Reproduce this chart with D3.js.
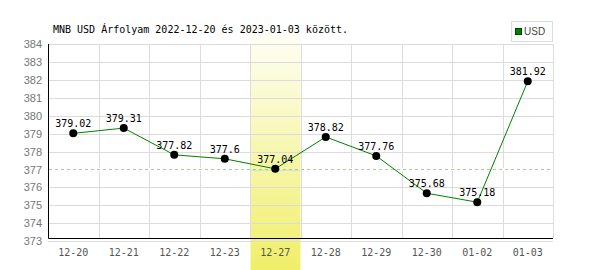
<!DOCTYPE html>
<html>
<head>
<meta charset="utf-8">
<script src="https://cdn.jsdelivr.net/npm/d3@7"></script>
<style>
  body { margin: 0; background: #fff; }
  svg { display: block; }
</style>
</head>
<body>
<div id="chart"></div>
<script>
const days = ['12-20', '12-21', '12-22', '12-23', '12-27', '12-28', '12-29', '12-30', '01-02', '01-03'];
const rates = [379.02, 379.31, 377.82, 377.6, 377.04, 378.82, 377.76, 375.68, 375.18, 381.92];
const valueLabels = ['379.02', '379.31', '377.82', '377.6', '377.04', '378.82', '377.76', '375.68', '375.18', '381.92'];
const yTicks = [373, 374, 375, 376, 377, 378, 379, 380, 381, 382, 383, 384];
const highlightDay = '12-27';
const title = 'MNB USD Árfolyam 2022-12-20 és 2023-01-03 között.';
const seriesName = 'USD';

const width = 600, height = 270;
const margin = {top: 44, right: 47, bottom: 29, left: 48};

const mono = '"DejaVu Sans Mono", monospace';

const svg = d3.select('#chart').append('svg')
    .attr('width', width)
    .attr('height', height);

const x = d3.scaleBand()
    .domain(days)
    .range([margin.left, width - margin.right]);

const y = d3.scaleLinear()
    .domain([373, 384])
    .range([241.3, margin.top]);

// highlighted day band
const grad = svg.append('defs').append('linearGradient')
    .attr('id', 'hl')
    .attr('x1', 0).attr('y1', 0).attr('x2', 0).attr('y2', 1);
grad.append('stop').attr('offset', '0%').attr('stop-color', '#fefef6');
grad.append('stop').attr('offset', '100%').attr('stop-color', '#f0ef68');

svg.append('rect')
    .attr('x', x(highlightDay) + 0.5)
    .attr('y', 33)
    .attr('width', x.bandwidth() - 0.5)
    .attr('height', height - 33)
    .attr('fill', 'url(#hl)');

// grid
svg.append('g')
    .selectAll('line')
    .data(yTicks)
    .enter()
  .append('line')
    .attr('x1', margin.left)
    .attr('x2', width - margin.right)
    .attr('y1', (d) => { return Math.round(y(d)) + 0.5 })
    .attr('y2', (d) => { return Math.round(y(d)) + 0.5 })
    .style('stroke', '#dcdcdc');

svg.append('g')
    .selectAll('line')
    .data(days.slice(1).concat(['end']))
    .enter()
  .append('line')
    .attr('x1', (d, i) => { return Math.round(margin.left + x.bandwidth() * (i + 1)) + 0.5 })
    .attr('x2', (d, i) => { return Math.round(margin.left + x.bandwidth() * (i + 1)) + 0.5 })
    .attr('y1', margin.top)
    .attr('y2', 238)
    .style('stroke', '#dcdcdc');

// frame (left + bottom)
svg.append('path')
    .attr('d', 'M' + (margin.left + 0.5) + ',' + margin.top + 'V238.5H' + (width - margin.right))
    .style('fill', 'none')
    .style('stroke', '#000');

// y labels
svg.append('g')
    .selectAll('text')
    .data(yTicks)
    .enter()
  .append('text')
    .attr('x', 42)
    .attr('y', (d) => { return y(d) + 4 })
    .attr('text-anchor', 'end')
    .style('font', '11px "Liberation Sans", sans-serif')
    .style('fill', '#777')
    .text((d) => { return d });

// x labels
svg.append('g')
    .selectAll('text')
    .data(days)
    .enter()
  .append('text')
    .attr('x', (d) => { return x(d) + x.bandwidth() / 2 })
    .attr('y', 256)
    .attr('text-anchor', 'middle')
    .style('font', '10px ' + mono)
    .style('fill', '#555')
    .text((d) => { return d });

// reference line at the highlighted day's rate
const refValue = rates[days.indexOf(highlightDay)];
const refY = Math.round(y(refValue)) + 0.5;
svg.append('rect')
    .attr('x', margin.left + 1)
    .attr('y', refY - 1.5)
    .attr('width', x(highlightDay) - margin.left - 1)
    .attr('height', 3)
    .style('fill', '#fff');
svg.append('rect')
    .attr('x', x(highlightDay) + x.bandwidth() + 1)
    .attr('y', refY - 1.5)
    .attr('width', width - margin.right - x(highlightDay) - x.bandwidth() - 1)
    .attr('height', 3)
    .style('fill', '#fff');
svg.append('line')
    .attr('x1', margin.left + 1)
    .attr('x2', width - margin.right)
    .attr('y1', refY)
    .attr('y2', refY)
    .style('stroke', '#93d893')
    .style('stroke-dasharray', '3,3');

// series
const points = days.map((d, i) => { return {day: d, value: rates[i], label: valueLabels[i]} });

const line = d3.line()
    .x((d) => { return x(d.day) + x.bandwidth() / 2 })
    .y((d) => { return y(d.value) });

svg.append('path')
    .datum(points)
    .attr('d', line)
    .style('fill', 'none')
    .style('stroke', '#008000')
    .style('stroke-width', 1);

svg.append('g')
    .selectAll('circle')
    .data(points)
    .enter()
  .append('circle')
    .attr('cx', (d) => { return x(d.day) + x.bandwidth() / 2 })
    .attr('cy', (d) => { return y(d.value) })
    .attr('r', 4)
    .style('fill', '#000');

svg.append('g')
    .selectAll('text')
    .data(points)
    .enter()
  .append('text')
    .attr('x', (d) => { return x(d.day) + x.bandwidth() / 2 })
    .attr('y', (d) => { return y(d.value) - 6 })
    .attr('text-anchor', 'middle')
    .style('font', '10px ' + mono)
    .style('fill', '#000')
    .text((d) => { return d.label });

// title
svg.append('text')
    .attr('x', 53)
    .attr('y', 33)
    .style('font', '10px ' + mono)
    .style('fill', '#000')
    .text(title);

// legend
const legend = svg.append('g');
legend.append('rect')
    .attr('x', 511.5).attr('y', 21.5)
    .attr('width', 41).attr('height', 20)
    .style('fill', '#fff')
    .style('stroke', '#dcdcdc');
legend.append('rect')
    .attr('x', 515.5).attr('y', 28.5)
    .attr('width', 6).attr('height', 6)
    .style('fill', '#008000')
    .style('stroke', '#004000');
legend.append('text')
    .attr('x', 524)
    .attr('y', 35)
    .style('font', '10px "Liberation Sans", sans-serif')
    .style('fill', '#444')
    .text(seriesName);
</script>
</body>
</html>
